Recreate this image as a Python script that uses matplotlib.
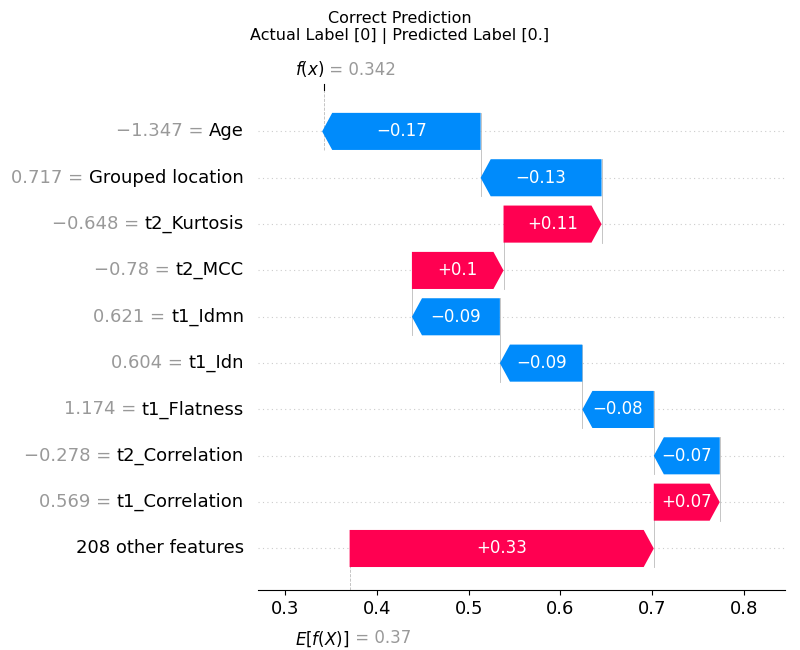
import matplotlib.pyplot as plt
from matplotlib.patches import Polygon

# bottom to top
features = ['208 other features', 't1_Correlation', 't2_Correlation', 't1_Flatness',
            't1_Idn', 't1_Idmn', 't2_MCC', 't2_Kurtosis', 'Grouped location', 'Age']
values = ['', '0.569', '\u22120.278', '1.174', '0.604', '0.621', '\u22120.78',
          '\u22120.648', '0.717', '\u22121.347']
shap = [0.332, 0.072, -0.072, -0.078, -0.090, -0.096, 0.100, 0.107, -0.132, -0.173]
labels = ['+0.33', '+0.07', '\u22120.07', '\u22120.08', '\u22120.09', '\u22120.09',
          '+0.1', '+0.11', '\u22120.13', '\u22120.17']
base = 0.37
fx = 0.342

RED = '#ff0051'
BLUE = '#008bfb'

fig = plt.figure(figsize=(8, 6.5), dpi=100)
ax = fig.add_axes([0.3225, 0.092, 0.6585, 0.77])
ax.set_xlim(0.27, 0.845)
ax.set_ylim(-0.9, 9.9)

hl = 0.011
h = 0.8
start = base
ends = []
for i, d in enumerate(shap):
    a, b = start, start + d
    ax.axhline(i, color='#cccccc', lw=0.8, ls=(0, (1, 3)), zorder=0)
    if d > 0:
        pts = [(a, i - h/2), (b - hl, i - h/2), (b, i), (b - hl, i + h/2), (a, i + h/2)]
        c = RED
    else:
        pts = [(a, i - h/2), (b + hl, i - h/2), (b, i), (b + hl, i + h/2), (a, i + h/2)]
        c = BLUE
    ax.add_patch(Polygon(pts, closed=True, color=c, lw=0, zorder=2))
    ax.text((a + b) / 2, i, labels[i], color='white', ha='center', va='center',
            fontsize=12, zorder=3)
    ends.append(b)
    start = b

# connector lines
for i in range(len(shap) - 1):
    ax.plot([ends[i], ends[i]], [i - h/2, i + 1 + h/2], color='#bbbbbb', lw=0.6, zorder=1)
ax.plot([base, base], [-0.9, h/2], color='#bbbbbb', lw=0.6, ls='--', zorder=1)
ax.plot([fx, fx], [9 - h/2, 9.9], color='#bbbbbb', lw=0.6, ls='--', zorder=1)

for s in ['top', 'right', 'left']:
    ax.spines[s].set_visible(False)
ax.set_yticks([])
ax.set_xticks([0.3, 0.4, 0.5, 0.6, 0.7, 0.8])
ax.tick_params(axis='x', labelsize=13)

fig.canvas.draw()
r = fig.canvas.get_renderer()
for i, (f, v) in enumerate(zip(features, values)):
    t = ax.annotate(f, xy=(0, i), xycoords=('axes fraction', 'data'),
                    xytext=(-10, 0), textcoords='offset points',
                    ha='right', va='center', fontsize=13)
    if v:
        bb = t.get_window_extent(r)
        x0 = ax.transAxes.inverted().transform((bb.x0, 0))[0]
        ax.annotate(v + ' = ', xy=(x0, i), xycoords=('axes fraction', 'data'),
                    ha='right', va='center', fontsize=13, color='#999999')

ax.annotate('$f(x)$', xy=(fx, 1), xycoords=('data', 'axes fraction'),
            xytext=(0, 8), textcoords='offset points', ha='right', va='bottom', fontsize=12)
ax.annotate(' = 0.342', xy=(fx, 1), xycoords=('data', 'axes fraction'),
            xytext=(0, 8), textcoords='offset points', ha='left', va='bottom',
            fontsize=12, color='#999999')
ax.plot([fx, fx], [1, 1.012], transform=ax.get_xaxis_transform(), color='black',
        lw=0.8, clip_on=False)
ax.annotate('$E[f(X)]$', xy=(base, 0), xycoords=('data', 'axes fraction'),
            xytext=(0, -28), textcoords='offset points', ha='right', va='top', fontsize=12)
ax.annotate(' = 0.37', xy=(base, 0), xycoords=('data', 'axes fraction'),
            xytext=(0, -28), textcoords='offset points', ha='left', va='top',
            fontsize=12, color='#999999')

fig.text(0.5, 0.972, 'Correct Prediction', ha='center', va='center', fontsize=11.5)
fig.text(0.5, 0.945, 'Actual Label [0] | Predicted Label [0.]', ha='center', va='center',
         fontsize=11.5)

fig.savefig('out.png', dpi=100)
